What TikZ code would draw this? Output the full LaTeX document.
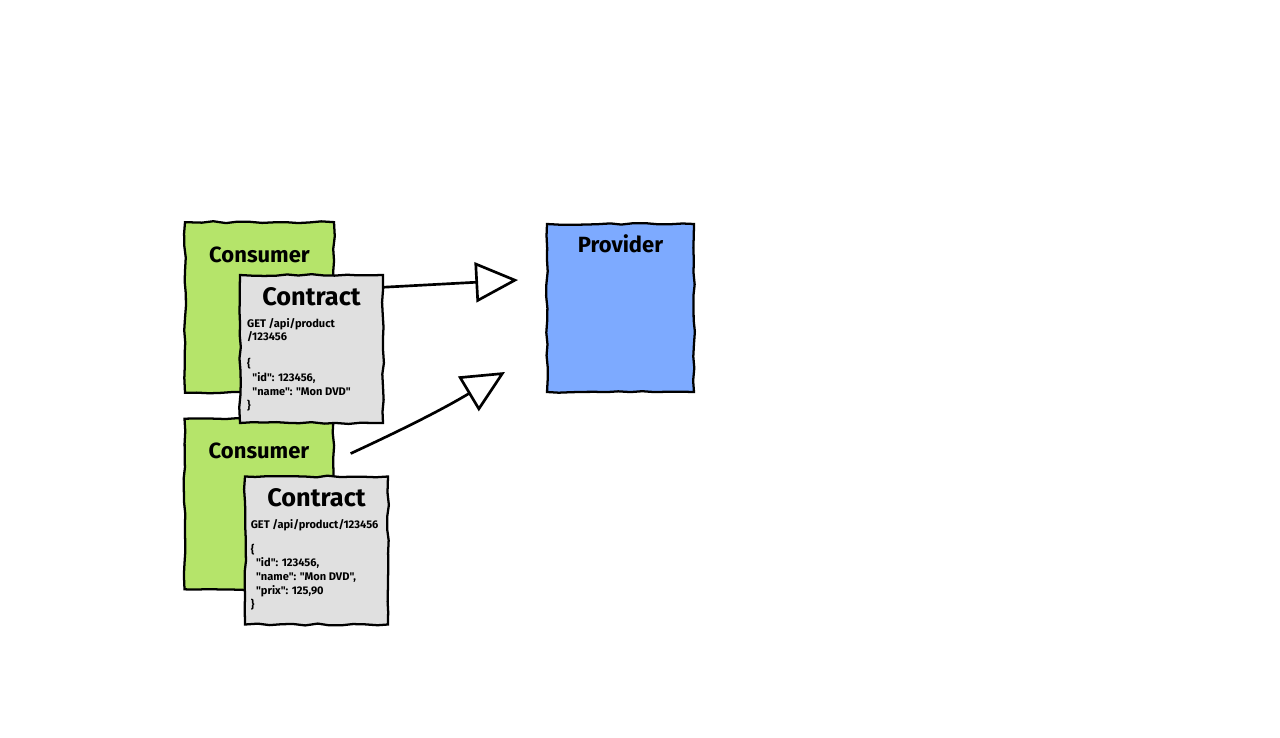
\documentclass[tikz,border=0pt]{standalone}
\usepackage{fontspec}
\setmainfont{Fira Sans}[Ligatures=TeXOff]
\usetikzlibrary{arrows.meta, positioning, decorations.pathmorphing}

\definecolor{consumergreen}{HTML}{B5E46A}
\definecolor{contractgray}{HTML}{E0E0E0}
\definecolor{providerblue}{HTML}{7DAAFF}

\begin{document}
\begin{tikzpicture}[x=0.75pt, y=-0.75pt]
\pgfmathsetseed{7}
\tikzset{font=\bfseries}
\tikzset{sketch/.style={draw, line width=1.7pt, decorate, decoration={random steps, segment length=9pt, amplitude=0.7pt}}}
\tikzset{card/.style={sketch, rectangle, inner sep=0pt}}
\tikzset{consumerbox/.style={card, fill=consumergreen, minimum width=111.75pt, minimum height=128pt}}
\tikzset{contractbox/.style={card, fill=contractgray, minimum width=107.25pt, minimum height=111pt}}
\tikzset{providerbox/.style={card, fill=providerblue, minimum width=110.25pt, minimum height=126pt}}
\tikzset{boxtitle/.style={font=\bfseries\fontsize{16.5}{18}\selectfont, inner sep=0pt}}
\tikzset{contracttitle/.style={font=\bfseries\fontsize{19}{21}\selectfont, inner sep=0pt}}
\tikzset{payload/.style={font=\bfseries\fontsize{8.3}{10.3}\selectfont, align=left, inner sep=0pt, anchor=north west}}
\tikzset{flow/.style={line width=2pt, -{Triangle[open, length=32pt, width=30pt, line width=2pt]}}}
\useasboundingbox (0,0) rectangle (1280,738);

% consumers and their contracts
\node[consumerbox] (consumer1) at (259.5,307.5) {};
\node[boxtitle, below=19pt of consumer1.north] (consumer1title) {Consumer};
\node[consumerbox] (consumer2) at (259,504) {};
\node[boxtitle, below=19pt of consumer2.north] (consumer2title) {Consumer};

\node[contractbox] (contract1) at (311.5,349) {};
\node[contracttitle, below=10pt of contract1.north] (contract1title) {Contract};
\node[payload] (payload1) at ([xshift=6pt, yshift=-33pt]contract1.north west)
  {GET /api/product\\/123456\\[10pt]\{\\\hspace{4pt}"id": 123456,\\\hspace{4pt}"name": "Mon DVD"\\\}};

\node[contractbox] (contract2) at (316.5,550.5) {};
\node[contracttitle, below=10pt of contract2.north] (contract2title) {Contract};
\node[payload] (payload2) at ([xshift=5pt, yshift=-33pt]contract2.north west)
  {GET /api/product/123456\\[8pt]\{\\\hspace{4pt}"id": 123456,\\\hspace{4pt}"name": "Mon DVD",\\\hspace{4pt}"prix": 125,90\\\}};

% provider
\node[providerbox] (provider) at (620.5,308) {};
\node[boxtitle, below=9pt of provider.north] (providertitle) {Provider};

% requests
\coordinate (tip1) at (518,280);
\coordinate (tip2) at (505,372);
\coordinate (start2) at ([xshift=12pt, yshift=-27pt]consumer2.north east);
\draw[flow] ([yshift=-10pt]contract1.north east) -- (tip1);
\draw[flow] (start2) to[bend right=3] (tip2);
\end{tikzpicture}
\end{document}
